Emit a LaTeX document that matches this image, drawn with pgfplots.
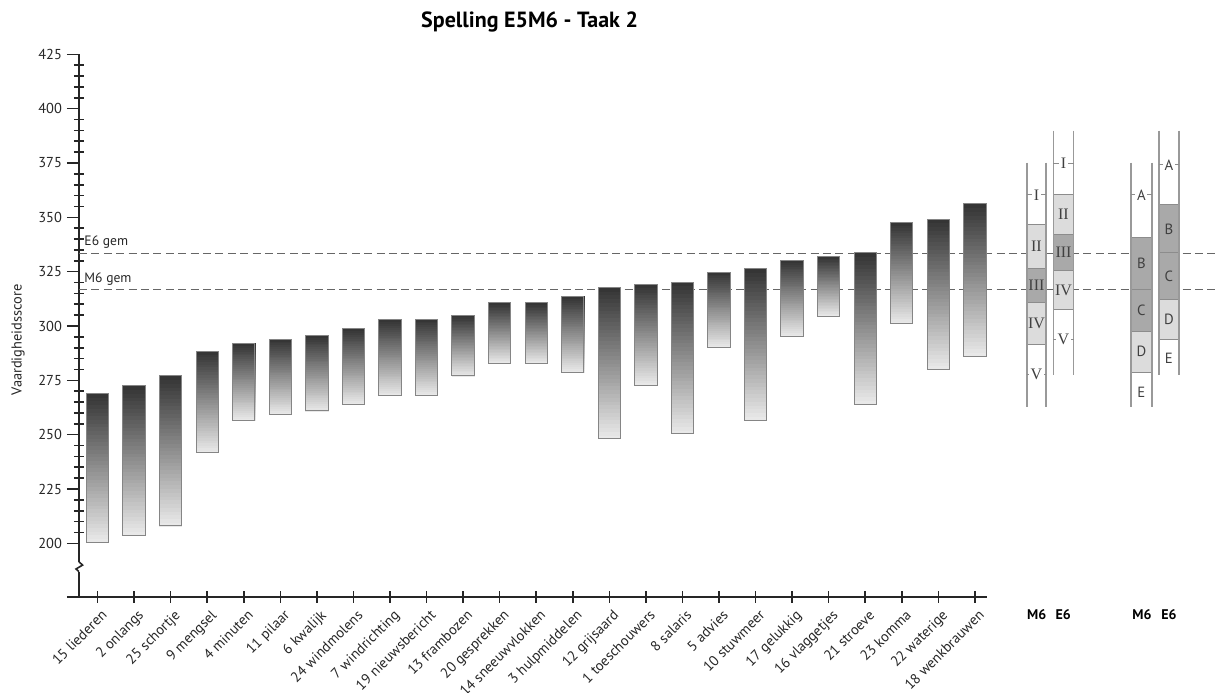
\documentclass[border=0pt]{standalone}
\usepackage{pgfplots}
\usepackage{pgfplotstable}
\pgfplotsset{compat=1.18}
\usepackage{fontspec}
\setmainfont{PT Sans}
\newfontfamily\romanfont{Liberation Serif}
\definecolor{lightbox}{HTML}{DCDCDC}
\definecolor{midbox}{HTML}{A9A9A9}
\newcommand{\pbox}[5]{\filldraw[fill=#5, draw=black!45, line width=0.5pt] (axis cs:#1,#3) rectangle (axis cs:#2,#4);}
\newcommand{\pcol}[4]{\draw[black!40, line width=0.8pt] (axis cs:#1,#3) -- (axis cs:#1,#4); \draw[black!40, line width=0.8pt] (axis cs:#2,#3) -- (axis cs:#2,#4);}
\newcommand{\pdash}[3]{\draw[black!45, line width=0.5pt] (axis cs:#1,#3) -- (axis cs:#2,#3);}
\newcommand{\plab}[3]{\node[font=\fontsize{7.4}{8}\selectfont, text=black!75, inner sep=0.8pt, fill=white] at (axis cs:#1,#2) {#3};}
\newcommand{\plabn}[3]{\node[font=\fontsize{7.4}{8}\selectfont, text=black!75, inner sep=0.8pt] at (axis cs:#1,#2) {#3};}
\newcommand{\rlab}[3]{\node[font=\romanfont\fontsize{8}{9}\selectfont, text=black!75, inner sep=0.8pt, fill=white] at (axis cs:#1,#2) {#3};}
\newcommand{\rlabn}[3]{\node[font=\romanfont\fontsize{8}{9}\selectfont, text=black!75, inner sep=0.8pt] at (axis cs:#1,#2) {#3};}
% floating bar mark: drawn from the bottom value upwards, height = (top-bot) * y unit (1.08667pt per score point)
% the vertical gradient is built from flat bands (no PDF shading)
\pgfdeclareplotmark{fbar}{%
  \pgfmathsetmacro\bh{\blen*1.08667}%
  \foreach \k in {0,...,39}{%
    \pgfmathsetmacro\cl{8+72*(\k+0.5)/40}%
    \pgfmathsetmacro\ya{\bh*\k/40}%
    \pgfmathsetmacro\yb{min(\bh*(\k+1)/40+0.35,\bh)}%
    \fill[black!\cl] (-5.575pt,\ya pt) rectangle (5.575pt,\yb pt);
  }%
  \draw[black!48, line width=0.5pt] (-5.575pt,0pt) rectangle (5.575pt,\bh pt);}
\pgfplotstableread{
x bot top
1 200.5 269.0
2 203.8 272.4
3 208.0 277.1
4 241.7 288.2
5 256.7 292.0
6 259.4 294.0
7 260.9 295.7
8 264.0 298.8
9 267.9 302.8
10 268.2 303.2
11 277.0 304.9
12 282.8 310.6
13 282.8 310.6
14 278.8 313.5
15 248.1 317.8
16 272.7 319.0
17 250.4 320.2
18 290.2 324.8
19 256.7 326.4
20 295.4 330.2
21 304.6 331.9
22 264.1 333.6
23 301.1 347.5
24 280.0 349.2
25 286.0 356.3
}\bars
\begin{document}
\begin{tikzpicture}
\begin{axis}[
  scale only axis, width=453.8pt, height=271.2pt,
  xmin=0.49, xmax=25.32, ymin=175.43, ymax=425,
  axis x line*=bottom, axis y line*=left,
  clip=false,
  axis line style={line width=0.85pt, black!85},
  tick style={line width=0.8pt, black!85},
  tick align=center, major tick length=6pt, minor tick length=5pt,
  major y tick style={xshift=-3pt},
  xtick={1,...,25},
  xticklabels={15 liederen, 2 onlangs, 25 schortje, 9 mengsel, 4 minuten, 11 pilaar, 6 kwalijk, 24 windmolens, 7 windrichting, 19 nieuwsbericht, 13 frambozen, 20 gesprekken, 14 sneeuwvlokken, 3 hulpmiddelen, 12 grijsaard, 1 toeschouwers, 8 salaris, 5 advies, 10 stuwmeer, 17 gelukkig, 16 vlaggetjes, 21 stroeve, 23 komma, 22 waterige, 18 wenkbrauwen},
  ytick={200,225,...,425},
  minor ytick={205,210,215,220,230,235,240,245,255,260,265,270,280,285,290,295,305,310,315,320,330,335,340,345,355,360,365,370,380,385,390,395,405,410,415,420},
  /pgf/number format/assume math mode=true,
  ticklabel style={font=\fontsize{7.2}{8}\selectfont, text=black!85},
  yticklabel style={anchor=east, xshift=-2pt},
  xticklabel style={rotate=45, anchor=north east, inner sep=1pt, yshift=-2pt},
]
\addplot[only marks, mark=fbar,
  visualization depends on={\thisrow{top}-\thisrow{bot} \as \blen}]
  table[x=x, y=bot] {\bars};

% mean lines
\draw[black!60, line width=0.6pt, dash pattern=on 4pt off 2.2pt] (axis cs:0.49,333.4) -- (axis cs:31.68,333.4);
\draw[black!60, line width=0.6pt, dash pattern=on 4pt off 2.2pt] (axis cs:0.49,316.9) -- (axis cs:31.68,316.9);
\node[anchor=west, font=\fontsize{6.8}{8}\selectfont, text=black!85, inner sep=0pt] at (axis cs:0.63,338.5) {E6 gem};
\node[anchor=west, font=\fontsize{6.8}{8}\selectfont, text=black!85, inner sep=0pt] at (axis cs:0.63,321.6) {M6 gem};

% column 1: M6 roman
\pbox{26.42}{26.95}{346.8}{326.55}{lightbox}
\pbox{26.42}{26.95}{326.55}{310.7}{midbox}
\pbox{26.42}{26.95}{310.7}{291.7}{lightbox}
\pcol{26.42}{26.95}{375.2}{262.9}
\pdash{26.42}{26.95}{360.3}\rlab{26.685}{360.3}{I}
\pdash{26.42}{26.95}{277.8}\rlab{26.685}{277.8}{V}
\rlabn{26.685}{336.7}{II}
\rlabn{26.685}{318.6}{III}
\rlabn{26.685}{301.2}{IV}
% column 2: E6 roman
\pbox{27.15}{27.70}{360.7}{341.9}{lightbox}
\pbox{27.15}{27.70}{341.9}{325.5}{midbox}
\pbox{27.15}{27.70}{325.5}{307.7}{lightbox}
\pcol{27.15}{27.70}{389.9}{277.5}
\pdash{27.15}{27.70}{374.8}\rlab{27.425}{374.8}{I}
\pdash{27.15}{27.70}{293.9}\rlab{27.425}{293.9}{V}
\rlabn{27.425}{351.3}{II}
\rlabn{27.425}{333.7}{III}
\rlabn{27.425}{316.6}{IV}
% column 3: M6 letters
\pbox{29.27}{29.84}{340.8}{317.0}{midbox}
\pbox{29.27}{29.84}{317.0}{297.7}{midbox}
\pbox{29.27}{29.84}{297.7}{278.7}{lightbox}
\pcol{29.27}{29.84}{375.2}{262.9}
\pdash{29.27}{29.84}{360.3}\plab{29.555}{360.3}{A}
\plabn{29.555}{328.9}{B}
\plabn{29.555}{307.35}{C}
\plabn{29.555}{288.2}{D}
\plabn{29.555}{269.3}{E}
% column 4: E6 letters
\pbox{30.03}{30.59}{355.7}{333.7}{midbox}
\pbox{30.03}{30.59}{333.7}{312.3}{midbox}
\pbox{30.03}{30.59}{312.3}{293.6}{lightbox}
\pcol{30.03}{30.59}{389.9}{277.5}
\pdash{30.03}{30.59}{374.1}\plab{30.31}{374.1}{A}
\plabn{30.31}{344.7}{B}
\plabn{30.31}{323.0}{C}
\plabn{30.31}{303.0}{D}
\plabn{30.31}{285.1}{E}

% bottom labels
\node[font=\bfseries\fontsize{7}{8}\selectfont] at (axis cs:26.69,167.0) {M6};
\node[font=\bfseries\fontsize{7}{8}\selectfont] at (axis cs:27.42,167.0) {E6};
\node[font=\bfseries\fontsize{7}{8}\selectfont] at (axis cs:29.57,167.0) {M6};
\node[font=\bfseries\fontsize{7}{8}\selectfont] at (axis cs:30.31,167.0) {E6};

% title and y label
\node[font=\bfseries\fontsize{11}{13}\selectfont] at (axis cs:12.82,440.0) {Spelling E5M6 - Taak 2};
\node[rotate=90, font=\fontsize{7.2}{8}\selectfont, text=black!85] at (axis cs:-1.178,293.6) {Vaardigheidsscore};

\coordinate (bbsw) at (axis cs:-1.670,131.57);
\coordinate (bbne) at (axis cs:31.68,450.0);
\coordinate (xl) at (axis cs:0.163,175.43);
\coordinate (x0) at (axis cs:0.49,175.43);
\coordinate (b1) at (axis cs:0.49,191.5);
\coordinate (b2) at (axis cs:0.59,190.0);
\coordinate (b3) at (axis cs:0.41,188.2);
\coordinate (b4) at (axis cs:0.49,187.0);
\end{axis}
\draw[line width=0.85pt, black!85] (xl) -- (x0);
\fill[white] ([xshift=-2pt]b1) rectangle ([xshift=2pt]b4);
\draw[line width=0.8pt, black!85] (b1) -- (b2) -- (b3) -- (b4);
\pgfresetboundingbox
\path (bbsw) rectangle (bbne);
\end{tikzpicture}
\end{document}
